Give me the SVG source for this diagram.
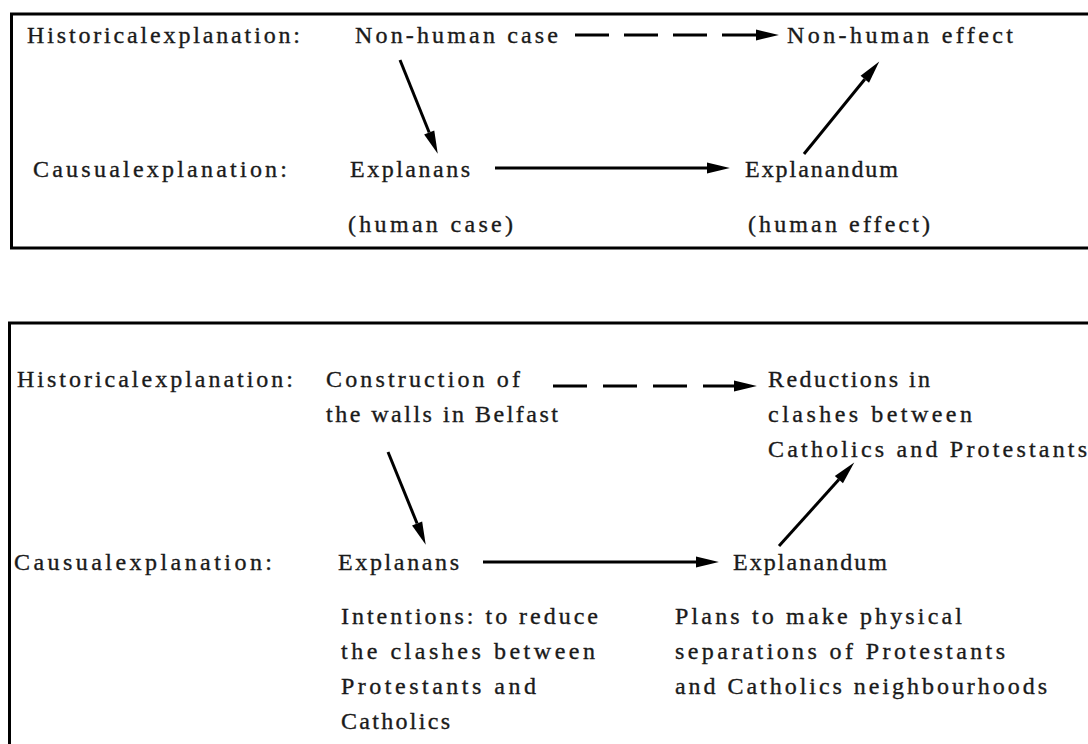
<svg xmlns="http://www.w3.org/2000/svg" width="1088" height="744" viewBox="0 0 1088 744">
<style>
text{font-family:"Liberation Serif","Times New Roman",serif;font-size:24px;fill:#1a1a1a;stroke:#1a1a1a;stroke-width:0.35}
.frame{fill:none;stroke:#000;stroke-width:3}
.c{fill:none;stroke:#000;stroke-width:3}
.d{stroke-dasharray:34 15}
</style>
<defs>
<marker id="ah" markerUnits="userSpaceOnUse" markerWidth="24" markerHeight="12" refX="0" refY="5" orient="auto" viewBox="0 0 22 10" overflow="visible">
<path d="M0,0 L21,5 L0,10 z" fill="#000"/>
</marker>
</defs>
<rect class="frame" x="11.5" y="14" width="1100" height="234"/>
<rect class="frame" x="9.5" y="323" width="1100" height="440"/>
<g id="connectors">
<path class="c d" d="M575,35 L756,35" marker-end="url(#ah)"/>
<path class="c" d="M400,60 L429.2,132.5" marker-end="url(#ah)"/>
<path class="c" d="M495,168 L707,168" marker-end="url(#ah)"/>
<path class="c" d="M804,154 L864.8,79.3" marker-end="url(#ah)"/>
<path class="c" d="M553,386 L734,386" stroke-dasharray="34 16" marker-end="url(#ah)"/>
<path class="c" d="M388,452 L417.1,523.5" marker-end="url(#ah)"/>
<path class="c" d="M483,562 L696,562" marker-end="url(#ah)"/>
<path class="c" d="M779,546 L838.9,479.6" marker-end="url(#ah)"/>
</g>
<g id="top-labels">
<text x="27" y="43" textLength="273" lengthAdjust="spacing">Historicalexplanation:</text>
<text x="33" y="177" textLength="254" lengthAdjust="spacing">Causualexplanation:</text>
</g>
<g id="top-nonhuman-case"><text x="355" y="43" textLength="203" lengthAdjust="spacing">Non-human case</text></g>
<g id="top-nonhuman-effect"><text x="787" y="43" textLength="226" lengthAdjust="spacing">Non-human effect</text></g>
<g id="top-explanans">
<text x="350" y="177" textLength="120" lengthAdjust="spacing">Explanans</text>
<text x="348" y="232" textLength="165" lengthAdjust="spacing">(human case)</text>
</g>
<g id="top-explanandum">
<text x="745" y="177" textLength="153" lengthAdjust="spacing">Explanandum</text>
<text x="748" y="232" textLength="182" lengthAdjust="spacing">(human effect)</text>
</g>
<g id="bottom-labels">
<text x="17" y="387" textLength="276" lengthAdjust="spacing">Historicalexplanation:</text>
<text x="14" y="570" textLength="258" lengthAdjust="spacing">Causualexplanation:</text>
</g>
<g id="bottom-construction">
<text x="326" y="387" textLength="194" lengthAdjust="spacing">Construction of</text>
<text x="326" y="422" textLength="232" lengthAdjust="spacing">the walls in Belfast</text>
</g>
<g id="bottom-reductions">
<text x="768" y="387" textLength="162" lengthAdjust="spacing">Reductions in</text>
<text x="768" y="422" textLength="204" lengthAdjust="spacing">clashes between</text>
<text x="768" y="457" textLength="319" lengthAdjust="spacing">Catholics and Protestants</text>
</g>
<g id="bottom-explanans">
<text x="338" y="570" textLength="121" lengthAdjust="spacing">Explanans</text>
<text x="341" y="624" textLength="257" lengthAdjust="spacing">Intentions: to reduce</text>
<text x="341" y="659" textLength="254" lengthAdjust="spacing">the clashes between</text>
<text x="341" y="694" textLength="195" lengthAdjust="spacing">Protestants and</text>
<text x="341" y="729" textLength="109" lengthAdjust="spacing">Catholics</text>
</g>
<g id="bottom-explanandum">
<text x="733" y="570" textLength="154" lengthAdjust="spacing">Explanandum</text>
<text x="675" y="624" textLength="287" lengthAdjust="spacing">Plans to make physical</text>
<text x="675" y="659" textLength="330" lengthAdjust="spacing">separations of Protestants</text>
<text x="675" y="694" textLength="372" lengthAdjust="spacing">and Catholics neighbourhoods</text>
</g>
</svg>
